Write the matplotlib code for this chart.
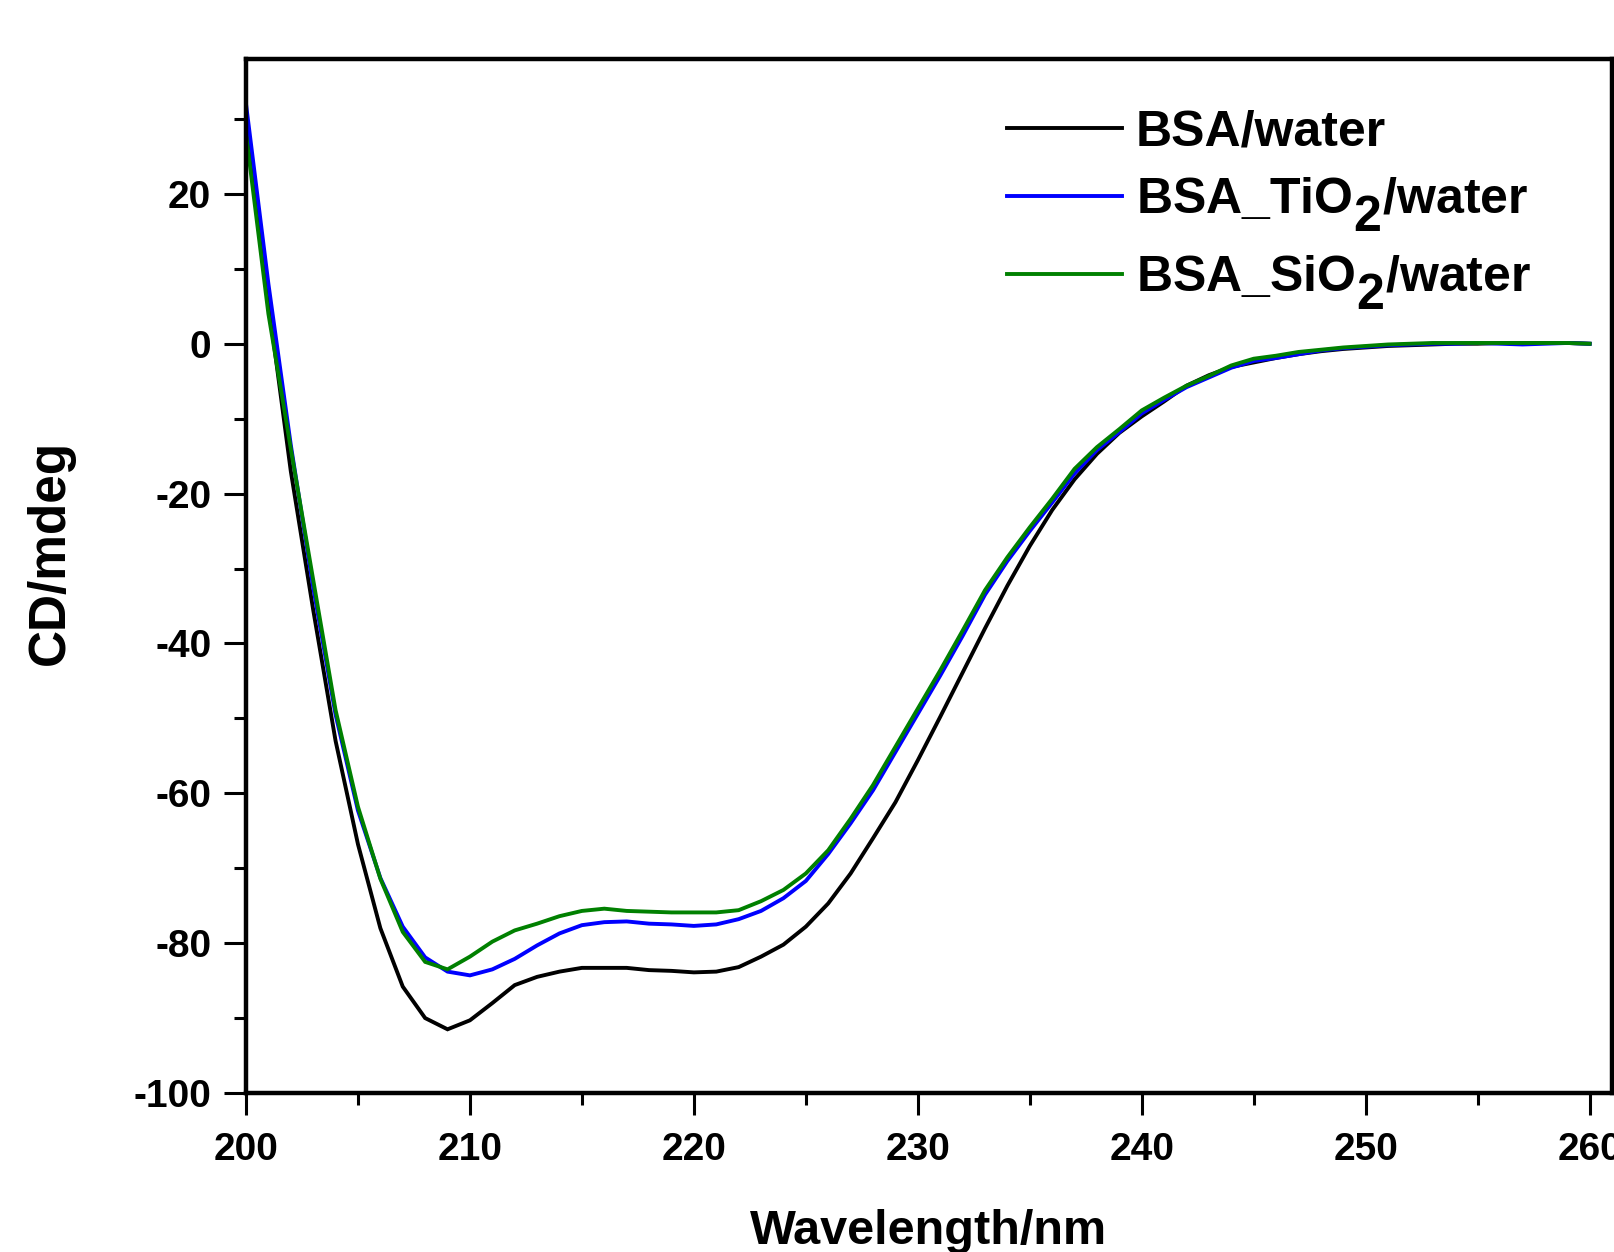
import matplotlib
matplotlib.use("Agg")
import matplotlib.pyplot as plt
from matplotlib.ticker import MultipleLocator

# Make mathtext subscripts large and low, like the reference legend
try:
    import matplotlib._mathtext as _mt
    _mt.SHRINK_FACTOR = 1.0
    _mt.FontConstantsBase.sub1 = 0.7
except Exception:
    pass

# ---- data ----
wavelength = list(range(200, 261))

bsa_water = [29.5, 5.5, -17.0, -35.5, -53.0, -66.8, -78.0, -85.8, -90.0, -91.5,
             -90.3, -88.0, -85.6, -84.5, -83.8, -83.3, -83.3, -83.3, -83.6, -83.7,
             -83.9, -83.8, -83.2, -81.8, -80.2, -77.8, -74.7, -70.7, -66.0, -61.2,
             -55.6, -49.8, -43.9, -38.0, -32.3, -27.0, -22.2, -18.1, -14.7, -11.9,
             -9.7, -7.7, -5.6, -4.2, -3.1, -2.5, -1.9, -1.4, -1.0, -0.7,
             -0.5, -0.3, -0.2, -0.1, 0.0, 0.0, 0.1, 0.1, 0.1, 0.1, 0.0]

bsa_tio2_water = [32.0, 8.0, -13.5, -32.5, -49.5, -62.3, -71.3, -77.8, -81.9, -83.8,
                  -84.3, -83.5, -82.1, -80.3, -78.7, -77.6, -77.2, -77.1, -77.4, -77.5,
                  -77.7, -77.5, -76.8, -75.7, -74.0, -71.7, -68.1, -64.0, -59.6, -54.5,
                  -49.4, -44.3, -39.0, -33.5, -29.0, -25.0, -21.2, -17.3, -14.2, -11.8,
                  -9.3, -7.5, -5.8, -4.5, -3.2, -2.3, -1.9, -1.4, -0.9, -0.6,
                  -0.4, -0.2, -0.1, 0.0, 0.0, 0.1, 0.0, -0.1, 0.0, 0.1, 0.0]

bsa_sio2_water = [28.0, 4.0, -14.0, -31.5, -48.9, -61.8, -71.4, -78.5, -82.5, -83.5,
                  -81.8, -79.8, -78.3, -77.4, -76.4, -75.7, -75.4, -75.7, -75.8, -75.9,
                  -75.9, -75.9, -75.6, -74.4, -72.9, -70.7, -67.6, -63.4, -58.9, -53.8,
                  -48.7, -43.6, -38.3, -32.9, -28.5, -24.5, -20.7, -16.7, -13.8, -11.4,
                  -8.9, -7.2, -5.6, -4.3, -2.9, -2.0, -1.6, -1.1, -0.8, -0.5,
                  -0.3, -0.1, 0.0, 0.1, 0.1, 0.1, 0.1, 0.1, 0.1, 0.1, 0.0]

series_labels = ["BSA/water", "BSA_TiO$_2$/water", "BSA_SiO$_2$/water"]
series_colors = ["#000000", "#0000FF", "#008000"]

x_ticks = [200, 210, 220, 230, 240, 250, 260]
y_ticks = [-100, -80, -60, -40, -20, 0, 20]

# ---- style ----
plt.rcParams["font.family"] = ["Liberation Sans", "DejaVu Sans"]
plt.rcParams["font.weight"] = "bold"
plt.rcParams["axes.unicode_minus"] = False
plt.rcParams["mathtext.fontset"] = "custom"
plt.rcParams["mathtext.rm"] = "Liberation Sans:bold"
plt.rcParams["mathtext.bf"] = "Liberation Sans:bold"
plt.rcParams["mathtext.it"] = "Liberation Sans:bold"
plt.rcParams["mathtext.default"] = "bf"

fig = plt.figure(figsize=(16.15, 12.52), dpi=100)
ax = fig.add_axes([246 / 1615, 1 - 1093 / 1252, (1612 - 246) / 1615, (1093 - 59) / 1252])

for ys, lab, col in zip([bsa_water, bsa_tio2_water, bsa_sio2_water], series_labels, series_colors):
    ax.plot(wavelength, ys, color=col, lw=2.8, label=lab, solid_joinstyle="miter")

ax.set_xlim(200, 261)
ax.set_ylim(-100, 38)
ax.set_xticks(x_ticks)
ax.set_yticks(y_ticks)
ax.xaxis.set_minor_locator(MultipleLocator(5))
ax.yaxis.set_minor_locator(MultipleLocator(10))

for sp in ax.spines.values():
    sp.set_linewidth(3.2)

ax.tick_params(which="major", direction="out", length=16, width=2.2, labelsize=28)
ax.tick_params(which="minor", direction="out", length=8.5, width=2.2)
ax.tick_params(axis="x", which="major", pad=12)
ax.tick_params(axis="y", which="major", pad=9)
for lbl in ax.get_xticklabels() + ax.get_yticklabels():
    lbl.set_fontweight("bold")

ax.set_xlabel("Wavelength/nm", fontsize=35, fontweight="bold")
ax.set_ylabel("CD/mdeg", fontsize=37, fontweight="bold")
ax.xaxis.set_label_coords(0.5, -0.112)
ax.yaxis.set_label_coords(-0.125, 0.523)

leg = ax.legend(loc="upper left", bbox_to_anchor=((1007 - 246) / 1366, 0.951),
                frameon=False, borderpad=0, borderaxespad=0,
                handlelength=2.3, handletextpad=0.28, labelspacing=0.39,
                prop={"family": "Liberation Sans", "weight": "bold", "size": 36})

fig.savefig("out.png", dpi=100)
